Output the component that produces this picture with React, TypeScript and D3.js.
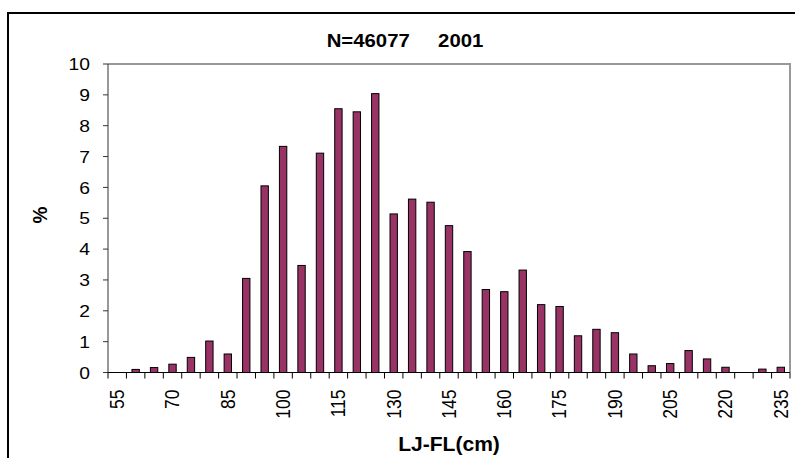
import * as d3 from 'd3';

const W = 795;
const H = 458;
const PLOT = { left: 108, right: 790, top: 64, bottom: 372.5 };
const FONT = '"Liberation Sans", Arial, sans-serif';
const SX = 1.12; // the original image is a bit stretched horizontally

// LJ-FL length classes (cm) and share of catch (%)
const lengthClasses = [
    55, 60, 65, 70, 75, 80, 85, 90, 95, 100, 105, 110, 115, 120, 125, 130, 135, 140, 145,
    150, 155, 160, 165, 170, 175, 180, 185, 190, 195, 200, 205, 210, 215, 220, 225, 230, 235,
];
const percent = [
    0, 0.1, 0.16, 0.27, 0.49, 1.02, 0.6, 3.05, 6.05, 7.33, 3.47, 7.11, 8.55, 8.45, 9.04, 5.14,
    5.62, 5.52, 4.76, 3.92, 2.69, 2.62, 3.32, 2.2, 2.14, 1.19, 1.4, 1.29, 0.6, 0.22, 0.29, 0.71,
    0.44, 0.17, 0, 0.11, 0.17,
];
const xTickLabels = [55, 70, 85, 100, 115, 130, 145, 160, 175, 190, 205, 220, 235];
const yTicks = [0, 1, 2, 3, 4, 5, 6, 7, 8, 9, 10];
const title = 'N=46077     2001';
const xTitle = 'LJ-FL(cm)';
const yTitle = '%';

export default function App() {
    const cats = lengthClasses.map(String);
    const xScale = d3
        .scaleBand()
        .domain(cats)
        .range([PLOT.left, PLOT.right])
        .paddingInner(0.6)
        .paddingOuter(0.3);
    const step = xScale.step();
    const slotStart = (c: string) => (xScale(c) ?? 0) - step * 0.3;

    const yScale = d3.scaleLinear().domain([0, 10]).range([PLOT.bottom, PLOT.top]);

    const bars = cats.map((c, i) => {
        const v = percent[i];
        if (!v) return null;
        return (
            <rect
                key={c}
                x={xScale(c)}
                y={yScale(v)}
                width={xScale.bandwidth()}
                height={PLOT.bottom - yScale(v)}
                fill="#993366"
                stroke="#000"
                strokeWidth={1}
            />
        );
    });

    const xTicks = d3.range(cats.length + 1).map((i) => {
        const x = i < cats.length ? slotStart(cats[i]) : PLOT.right;
        return <line key={i} x1={x} x2={x} y1={PLOT.bottom} y2={PLOT.bottom + 6} stroke="#000" />;
    });

    const xLabels = xTickLabels.map((t) => {
        const cx = (xScale(String(t)) ?? 0) + xScale.bandwidth() / 2;
        return (
            <text
                key={t}
                transform={`translate(${cx},${PLOT.bottom + 17}) scale(${SX},1) rotate(-90)`}
                textAnchor="end"
                dominantBaseline="central"
                fontSize={17.5}
            >
                {t}
            </text>
        );
    });

    const yAxis = yTicks.map((t) => (
        <g key={t}>
            <line x1={PLOT.left - 5} x2={PLOT.left} y1={yScale(t)} y2={yScale(t)} stroke="#333" />
            <text
                transform={`translate(90,${yScale(t)}) scale(${SX},1)`}
                textAnchor="end"
                dominantBaseline="central"
                fontSize={17.2}
            >
                {t}
            </text>
        </g>
    ));

    return (
        <svg
            width={W}
            height={H}
            style={{ position: 'absolute', left: 0, top: 0, background: '#fff' }}
            fontFamily={FONT}
        >
            <rect x={8} y={13} width={W} height={H} fill="#fff" stroke="#000" strokeWidth={2} />
            {/* plot area frame */}
            <polyline
                points={`${PLOT.left},${PLOT.top} ${PLOT.right},${PLOT.top} ${PLOT.right},${PLOT.bottom}`}
                fill="none"
                stroke="#999"
                strokeWidth={2}
            />
            {bars}
            <line x1={PLOT.left} x2={PLOT.left} y1={PLOT.top} y2={PLOT.bottom} stroke="#333" />
            <line x1={PLOT.left} x2={PLOT.right} y1={PLOT.bottom} y2={PLOT.bottom} stroke="#000" />
            {xTicks}
            {xLabels}
            {yAxis}
            <text
                transform={`translate(405,47) scale(1.1,1)`}
                textAnchor="middle"
                fontWeight="bold"
                fontSize={18.5}
                style={{ whiteSpace: 'pre' }}
            >
                {title}
            </text>
            <text
                transform={`translate(449,451) scale(1.08,1)`}
                textAnchor="middle"
                fontWeight="bold"
                fontSize={19.5}
            >
                {xTitle}
            </text>
            <text
                transform={`translate(40,215) scale(1.1,1) rotate(-90)`}
                textAnchor="middle"
                dominantBaseline="central"
                fontWeight="bold"
                fontSize={19}
            >
                {yTitle}
            </text>
        </svg>
    );
}
